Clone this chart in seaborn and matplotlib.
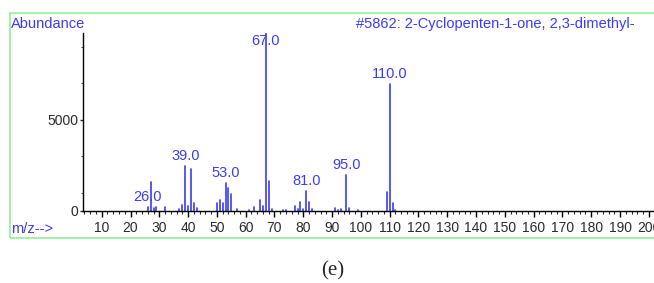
import numpy as np
import pandas as pd
import seaborn as sns
import matplotlib.pyplot as plt
from matplotlib.patches import Rectangle

# peaks
mz = [26, 27, 28, 29, 32, 37, 38, 39, 40, 41, 42, 43, 50, 51, 52, 53, 54, 55, 57,
      61, 63, 65, 66, 67, 68, 69, 73, 74, 77, 78, 79, 80, 81, 82, 83,
      91, 92, 93, 95, 96, 99, 109, 110, 111, 112]
abundance = [220, 1600, 150, 200, 200, 100, 350, 2470, 270, 2330, 460, 150, 460, 610, 450, 1530, 1270, 920, 130,
             60, 200, 610, 300, 9760, 1620, 130, 60, 60, 300, 130, 520, 130, 1110, 520, 110,
             150, 80, 100, 1960, 150, 60, 1060, 6980, 440, 60]
labeled = [26, 39, 53, 67, 81, 95, 110]
title = "#5862: 2-Cyclopenten-1-one, 2,3-dimethyl-"

BLUE = '#3b3bf5'

sns.set_style('white')
plt.rcParams['font.family'] = ['Liberation Sans', 'DejaVu Sans']

# two points per peak -> vertical stick from 0 to height
rows = []
for m, a in zip(mz, abundance):
    rows.append({'mz': m, 'ab': 0, 'peak': m})
    rows.append({'mz': m, 'ab': a, 'peak': m})
df = pd.DataFrame(rows)

fig = plt.figure(figsize=(6.54, 2.83), dpi=100)
ax = fig.add_axes([83 / 654, 72 / 283, 1 - 83 / 654, 178 / 283])

sns.lineplot(data=df, x='mz', y='ab', units='peak', estimator=None,
             color=BLUE, lw=1.2, ax=ax, sort=False)

ymax = 9760
ax.set_xlim(3.5, 201.8)
ax.set_ylim(0, ymax)

for m in labeled:
    h = abundance[mz.index(m)]
    ax.annotate(f"{m:.1f}", (m, min(h, 0.9 * ymax)), xytext=(0, 2),
                textcoords='offset points', ha='center', va='bottom',
                color=BLUE, fontsize=10.5)

ax.set_xlabel('')
ax.set_ylabel('')
for s in ['top', 'right']:
    ax.spines[s].set_visible(False)
for s in ['left', 'bottom']:
    ax.spines[s].set_color('black')
    ax.spines[s].set_linewidth(1.0)

ax.set_xticks(np.arange(10, 201, 10))
ax.set_xticks(np.arange(4, 202, 2), minor=True)
ax.set_yticks([0, 5000])
ax.set_yticks([1000, 3000, 7000, 9000], minor=True)
ax.tick_params(axis='x', which='major', direction='out', length=4, width=1,
               pad=3, labelsize=10, bottom=True, colors='black', labelcolor='#2a2a2a')
ax.tick_params(axis='x', which='minor', direction='out', length=2.2, width=0.8, bottom=True)
ax.tick_params(axis='y', which='major', direction='out', length=2.5, width=1,
               pad=1, labelsize=10, left=True, labelcolor='#2a2a2a')
ax.tick_params(axis='y', which='minor', direction='out', length=1.5, width=0.6, left=True)
ax.grid(False)

# green frame around the plot area
fig.add_artist(Rectangle((10 / 654, 45 / 283), 1.0, 225 / 283, transform=fig.transFigure,
                         fill=False, edgecolor='#9cf09c', lw=1.3))

fig.text(11 / 654, 1 - 24 / 283, "Abundance", color=BLUE, fontsize=10.5, va='center', ha='left')
fig.text(635 / 654, 1 - 24 / 283, title, color=BLUE, fontsize=10.5, va='center', ha='right')
fig.text(11 / 654, 1 - 229 / 283, "m/z-->", color=BLUE, fontsize=10.5, va='center', ha='left')
fig.text(333 / 654, 1 - 271 / 283, "(e)", fontsize=15, va='center', ha='center',
         family=['Liberation Serif', 'DejaVu Serif'])

fig.savefig('out.png', dpi=100)
